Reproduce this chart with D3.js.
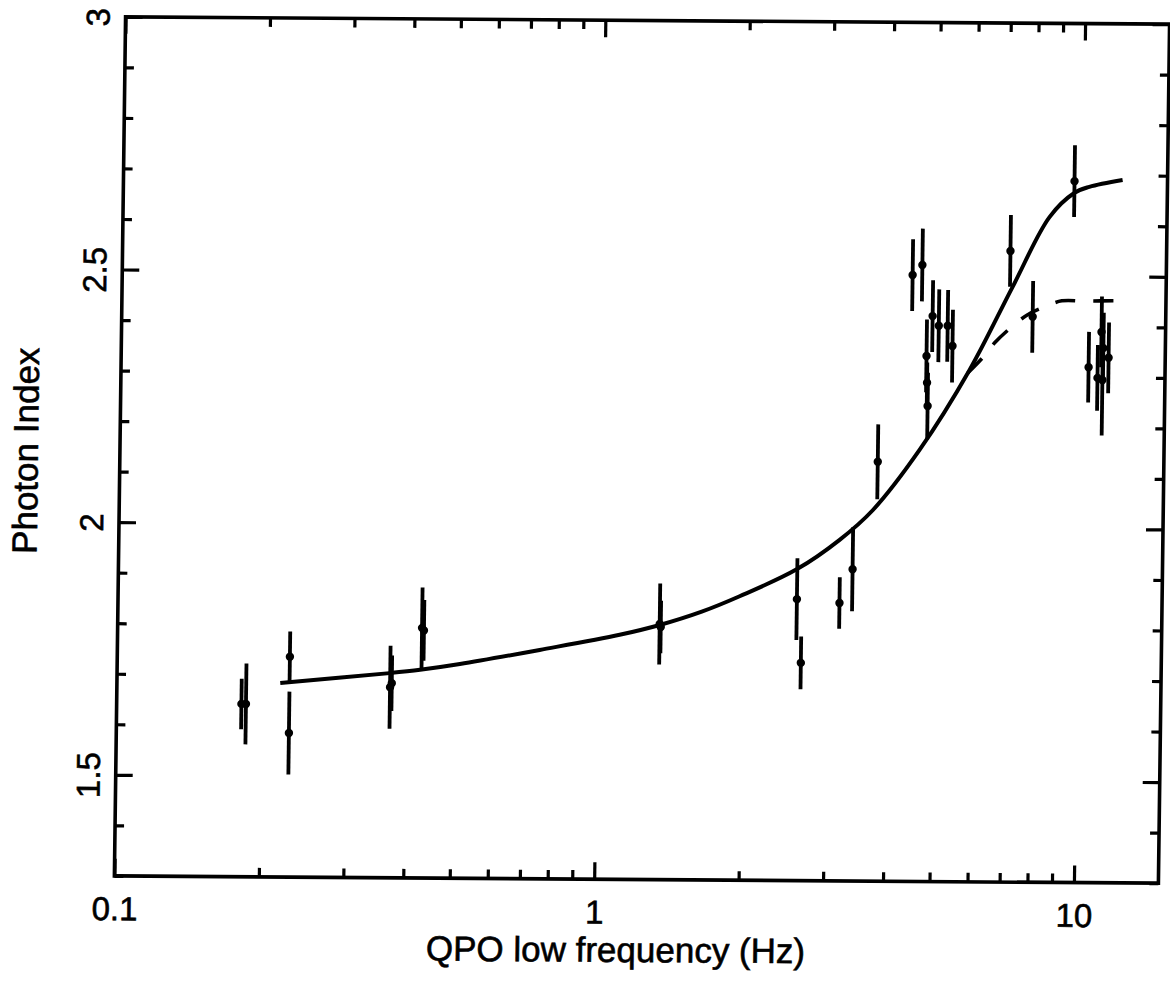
<!DOCTYPE html>
<html>
<head>
<meta charset="utf-8">
<script src="https://cdn.jsdelivr.net/npm/d3@7"></script>
<style>
  body { margin: 0; background: #fff; }
  svg { display: block; }
  .axis text { font-family: "Liberation Sans", Arial, Helvetica, sans-serif; font-size: 33px; fill: #000; stroke: #000; stroke-width: 0.6; }
  .axis line { stroke: #000; stroke-width: 3.2; }
  .axis path { display: none; }
  .title { font-family: "Liberation Sans", Arial, Helvetica, sans-serif; font-size: 35px; fill: #000; stroke: #000; stroke-width: 0.6; }
</style>
</head>
<body>
<div id="chart"></div>
<script>
// QPO frequency (Hz) vs photon index
var freq = [0.182, 0.186, 0.229, 0.229, 0.371, 0.374, 0.431, 0.435, 1.348, 1.355, 2.60, 2.66, 3.19, 3.39, 3.80,
  4.44, 4.65, 4.77, 4.79, 4.81, 4.90, 5.05, 5.27, 5.40, 7.09, 7.92, 9.60, 10.39, 10.85, 11.03, 11.11, 11.14, 11.43];
var gamma = [1.642, 1.642, 1.736, 1.585, 1.677, 1.685, 1.795, 1.79, 1.806, 1.80, 1.857, 1.731, 1.850, 1.917, 2.130,
  2.500, 2.520, 2.340, 2.287, 2.241, 2.419, 2.400, 2.400, 2.360, 2.549, 2.419, 2.688, 2.320, 2.299, 2.390, 2.295, 2.358, 2.339];
var gammaErr = [0.05, 0.08, 0.05, 0.082, 0.082, 0.055, 0.08, 0.06, 0.08, 0.052, 0.081, 0.052, 0.051, 0.083, 0.074,
  0.071, 0.072, 0.072, 0.04, 0.066, 0.071, 0.072, 0.071, 0.072, 0.071, 0.071, 0.071, 0.07, 0.065, 0.07, 0.11, 0.07, 0.07];

// solid model curve
var modelFreq = [0.219, 0.370, 0.428, 0.518, 0.759, 1.113, 1.348, 1.648, 1.975, 2.592, 3.18, 3.72, 4.64, 5.87, 7.18, 8.54, 9.61, 10.31, 12.09];
var modelGamma = [1.684, 1.705, 1.712, 1.724, 1.753, 1.784, 1.804, 1.831, 1.862, 1.916, 1.975, 2.034, 2.154, 2.313, 2.478, 2.617, 2.665, 2.677, 2.691];

// dashed model branch
var dashFreq = [5.82, 6.24, 6.61, 7.13, 7.70, 8.38, 9.10, 10.10, 12.09];
var dashGamma = [2.307, 2.337, 2.367, 2.397, 2.422, 2.439, 2.451, 2.451, 2.452];

var xMajor = [0.1, 1, 10];
var xMinor = [0.2, 0.3, 0.4, 0.5, 0.6, 0.7, 0.8, 0.9, 2, 3, 4, 5, 6, 7, 8, 9];
var xTickLabels = ["0.1", "1", "10"];
var yMajor = [1.5, 2, 2.5, 3];
var yMinor = [1.3, 1.4, 1.6, 1.7, 1.8, 1.9, 2.1, 2.2, 2.3, 2.4, 2.6, 2.7, 2.8, 2.9];
var yTickLabels = ["1.5", "2", "2.5", "3"];

var width = 1170,
  height = 984;
var frame = { left: 120, right: 1164, top: 20.5, bottom: 879.5 };

var svg = d3.select("#chart").append("svg").attr("width", width).attr("height", height);
svg.append("rect").attr("width", width).attr("height", height).attr("fill", "#fff");

// the scan is a little skewed, so the whole plot is too
var g = svg.append("g").attr("transform", "matrix(1,0.007,-0.013,1,5.84,-4.48)");

var x = d3.scaleLog().domain([0.1, 15]).range([frame.left, frame.right]);
var y = d3.scaleLinear().domain([1.3, 3]).range([frame.bottom, frame.top]);

function addAxis(axis, tx, ty) {
  return g
    .append("g")
    .attr("class", "axis")
    .attr("transform", "translate(" + tx + "," + ty + ")")
    .call(axis);
}

var noLabel = function () {
  return "";
};

// bottom
addAxis(
  d3.axisBottom(x).tickValues(xMajor).tickSize(-17).tickPadding(21).tickFormat(function (d, i) {
    return xTickLabels[i];
  }),
  0,
  frame.bottom
);
addAxis(d3.axisBottom(x).tickValues(xMinor).tickSize(-9).tickFormat(noLabel), 0, frame.bottom);
// top
addAxis(d3.axisTop(x).tickValues(xMajor).tickSize(-17).tickFormat(noLabel), 0, frame.top);
addAxis(d3.axisTop(x).tickValues(xMinor).tickSize(-9).tickFormat(noLabel), 0, frame.top);
// left
var leftMajor = addAxis(
  d3.axisLeft(y).tickValues(yMajor).tickSize(-17).tickFormat(function (d, i) {
    return yTickLabels[i];
  }),
  frame.left,
  0
);
addAxis(d3.axisLeft(y).tickValues(yMinor).tickSize(-9).tickFormat(noLabel), frame.left, 0);
// right
addAxis(d3.axisRight(y).tickValues(yMajor).tickSize(-17).tickFormat(noLabel), frame.right, 0);
addAxis(d3.axisRight(y).tickValues(yMinor).tickSize(-9).tickFormat(noLabel), frame.right, 0);

leftMajor
  .selectAll("text")
  .attr("x", null)
  .attr("dy", null)
  .attr("text-anchor", "middle")
  .attr("transform", "translate(-16,0) rotate(-90)");

g.append("rect")
  .attr("x", frame.left)
  .attr("y", frame.top)
  .attr("width", frame.right - frame.left)
  .attr("height", frame.bottom - frame.top)
  .attr("fill", "none")
  .attr("stroke", "#000")
  .attr("stroke-width", 3.6);

// model curves
var solid = modelFreq.map(function (f, i) {
  return [f, modelGamma[i]];
});
var dashed = dashFreq.map(function (f, i) {
  return [f, dashGamma[i]];
});
var line = d3
  .line()
  .x(function (d) {
    return x(d[0]);
  })
  .y(function (d) {
    return y(d[1]);
  })
  .curve(d3.curveCatmullRom.alpha(0.5));

g.append("path").attr("d", line(solid)).attr("fill", "none").attr("stroke", "#000").attr("stroke-width", 4);
g.append("path")
  .attr("d", line(dashed))
  .attr("fill", "none")
  .attr("stroke", "#000")
  .attr("stroke-width", 3.6)
  .attr("stroke-dasharray", "20,18");

// data points with error bars
var points = freq.map(function (f, i) {
  return { f: f, g: gamma[i], e: gammaErr[i] };
});
var pts = g.append("g").selectAll("g").data(points).enter().append("g");
pts
  .append("line")
  .attr("x1", function (d) {
    return x(d.f);
  })
  .attr("x2", function (d) {
    return x(d.f);
  })
  .attr("y1", function (d) {
    return y(d.g - d.e);
  })
  .attr("y2", function (d) {
    return y(d.g + d.e);
  })
  .attr("stroke", "#000")
  .attr("stroke-width", 3.8);
pts
  .append("circle")
  .attr("cx", function (d) {
    return x(d.f);
  })
  .attr("cy", function (d) {
    return y(d.g);
  })
  .attr("r", 4.2)
  .attr("fill", "#000");

// axis titles
g.append("text")
  .attr("class", "title")
  .attr("text-anchor", "middle")
  .attr("x", 622)
  .attr("y", 962)
  .text("QPO low frequency (Hz)");
g.append("text")
  .attr("class", "title")
  .attr("text-anchor", "middle")
  .attr("transform", "translate(38,455) rotate(-90)")
  .text("Photon Index");
</script>
</body>
</html>
